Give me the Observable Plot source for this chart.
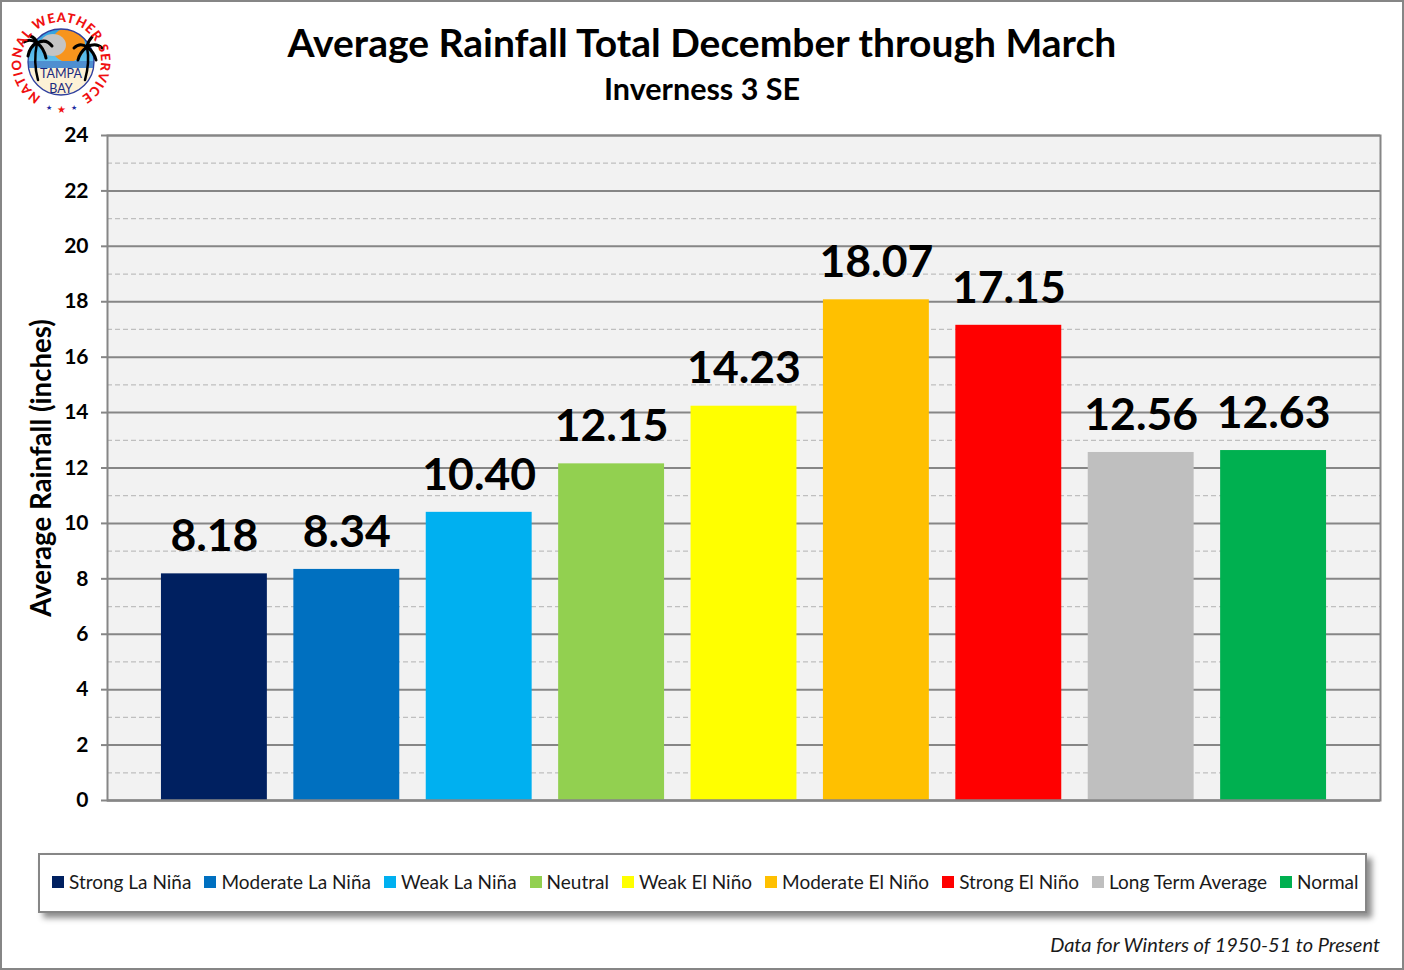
<!DOCTYPE html>
<html>
<head>
<meta charset="utf-8">
<script src="https://cdn.jsdelivr.net/npm/d3@7"></script>
<script src="https://cdn.jsdelivr.net/npm/@observablehq/plot@0.6"></script>
<style>
  html, body { margin: 0; padding: 0; background: white; }
  #page {
    position: relative; width: 1404px; height: 970px; box-sizing: border-box;
    border: 2px solid #868686; overflow: hidden;
    font-family: Lato, sans-serif; color: black;
  }
  #chart { position: absolute; left: -2px; top: 111px; width: 1404px; }
  #chart svg { display: block; max-width: none; }
  #title { position: absolute; left: -2px; width: 1404px; top: 17px; text-align: center; font-size: 39px; font-weight: 700; }
  #subtitle { position: absolute; left: -2px; width: 1404px; top: 68px; text-align: center; font-size: 30.5px; font-weight: 700; }
  #logo { position: absolute; left: 6px; top: 6px; }
  #legend {
    position: absolute; left: 36px; top: 851px; width: 1329px; height: 60px; box-sizing: border-box;
    border: 2px solid #868686; background: white; box-shadow: 5px 5px 6px rgba(0,0,0,0.45);
    display: flex; align-items: center; padding: 0 0 3px 12px; font-size: 19px; color: #1a1a1a; white-space: nowrap;
  }
  #legend .item { display: flex; align-items: center; margin-right: 13px; }
  #legend .swatch { width: 12px; height: 12px; margin-right: 5px; }
  #caption { position: absolute; right: 22px; top: 930px; font-size: 20px; font-style: italic; color: #1a1a1a; }
</style>
</head>
<body>
<div id="page">
  <svg id="logo" width="112" height="112" viewBox="0 0 112 112">
    <defs>
      <path id="ring" d="M 31.2 87.5 A 40 40 0 1 1 74.8 87.5"></path>
      <clipPath id="disc"><circle cx="53" cy="54" r="33"></circle></clipPath>
      <linearGradient id="sky" x1="0" y1="0" x2="0" y2="1">
        <stop offset="0" stop-color="#2f9fe0"></stop>
        <stop offset="1" stop-color="#6cc8ee"></stop>
      </linearGradient>
    </defs>
    <g clip-path="url(#disc)">
      <rect x="20" y="20" width="66" height="40" fill="url(#sky)"></rect>
      <circle cx="60" cy="37" r="17" fill="#f7941d"></circle>
      <ellipse cx="45" cy="37" rx="13" ry="11" fill="#c4c4c4"></ellipse>
      <rect x="20" y="53" width="66" height="7" fill="#4f8fd0"></rect>
      <rect x="20" y="60" width="66" height="30" fill="#fdf1d6"></rect>
    </g>
    <circle cx="53" cy="54" r="33" fill="none" stroke="#2e3f9e" stroke-width="1.3"></circle>
    <g fill="none" stroke="black" stroke-linecap="round">
      <path d="M 30 72 Q 25 54 29 35" stroke-width="2.5"></path>
      <path d="M 29 35 Q 22 30 16 34 M 29 35 Q 22 38 20 48 M 29 35 Q 38 30 44 38 M 29 35 Q 36 40 38 50 M 29 35 Q 28 30 22 28" stroke-width="3"></path>
      <path d="M 77 72 Q 82 54 79 39" stroke-width="2.5"></path>
      <path d="M 79 39 Q 72 34 66 40 M 79 39 Q 72 44 70 52 M 79 39 Q 88 34 94 40 M 79 39 Q 86 44 88 52 M 79 39 Q 80 33 84 29" stroke-width="3"></path>
    </g>
    <text x="53" y="70" text-anchor="middle" font-size="12.5" font-family="Lato" fill="#1b2a80">TAMPA</text>
    <text x="53" y="85" text-anchor="middle" font-size="12.5" font-family="Lato" fill="#1b2a80">BAY</text>
    <text font-size="13" font-weight="900" font-family="Lato" fill="#f01010" letter-spacing="0.9" text-anchor="middle">
      <textPath href="#ring" startOffset="50%">NATIONAL WEATHER SERVICE</textPath>
    </text>
    <text x="41" y="102" text-anchor="middle" font-size="7" fill="#1b2aa0">★</text>
    <text x="53" y="105" text-anchor="middle" font-size="10" fill="#f01010">★</text>
    <text x="66" y="102" text-anchor="middle" font-size="7" fill="#1b2aa0">★</text>
  </svg>
  <div id="title">Average Rainfall Total December through March</div>
  <div id="subtitle">Inverness 3 SE</div>
  <div id="chart"></div>
  <div id="legend"></div>
  <div id="caption">Data for Winters of 1950-51 to Present</div>
</div>
<script>
const categories = ["Strong La Niña", "Moderate La Niña", "Weak La Niña", "Neutral", "Weak El Niño", "Moderate El Niño", "Strong El Niño", "Long Term Average", "Normal"]
const rainfall = [8.18, 8.34, 10.40, 12.15, 14.23, 18.07, 17.15, 12.56, 12.63]
const colors = ["#002060", "#0070C0", "#00B0F0", "#92D050", "#FFFF00", "#FFC000", "#FF0000", "#BFBFBF", "#00B050"]
const majorTicks = [0, 2, 4, 6, 8, 10, 12, 14, 16, 18, 20, 22, 24]
const minorTicks = [1, 3, 5, 7, 9, 11, 13, 15, 17, 19, 21, 23]

// Table for the bars and their labels
const data = categories.map((c, i) => ({category: c, value: rainfall[i]}))

const chart = Plot.plot({
  width: 1404,
  height: 704,
  marginLeft: 107,
  marginRight: 24,
  marginTop: 22,
  marginBottom: 17,
  style: {fontFamily: "Lato", background: "transparent", overflow: "visible"},
  x: {domain: categories, axis: null, paddingInner: 0.2, paddingOuter: 0.4075, round: false},
  y: {domain: [0, 24]},
  color: {domain: categories, range: colors},
  marks: [
    Plot.frame({fill: "#F2F2F2", stroke: null}),
    Plot.ruleY(minorTicks, {stroke: "#BFBFBF", strokeWidth: 1.3, strokeDasharray: "5 3"}),
    Plot.ruleY(majorTicks, {stroke: "#868686", strokeWidth: 2}),
    Plot.barY(data, {x: "category", y: "value", fill: "category"}),
    Plot.ruleY([0], {stroke: "#868686", strokeWidth: 2}),
    Plot.frame({stroke: "#868686", strokeWidth: 2}),
    Plot.axisY({
      ticks: majorTicks, label: null, tickSize: 6, tickPadding: 13, stroke: "#868686", strokeWidth: 2,
      fontSize: 21, fontWeight: 700, color: "black", tickFormat: d => d
    }),
    Plot.text(data, {
      x: "category", y: "value", text: d => d.value.toFixed(2),
      fontSize: 44.5, fontWeight: 700, fill: "black", dy: -37
    }),
    Plot.text(["Average Rainfall (inches)"], {
      frameAnchor: "left", textAnchor: "middle", rotate: -90, dx: -65, fontSize: 27.6, fontWeight: 700, fill: "black"
    })
  ]
})
d3.select("#chart").append(() => chart)

// Legend row under the chart
const items = d3.select("#legend").selectAll(".item").data(data).join("div").attr("class", "item")
items.append("div").attr("class", "swatch").style("background", (d, i) => colors[i])
items.append("div").text(d => d.category)
</script>
</body>
</html>
